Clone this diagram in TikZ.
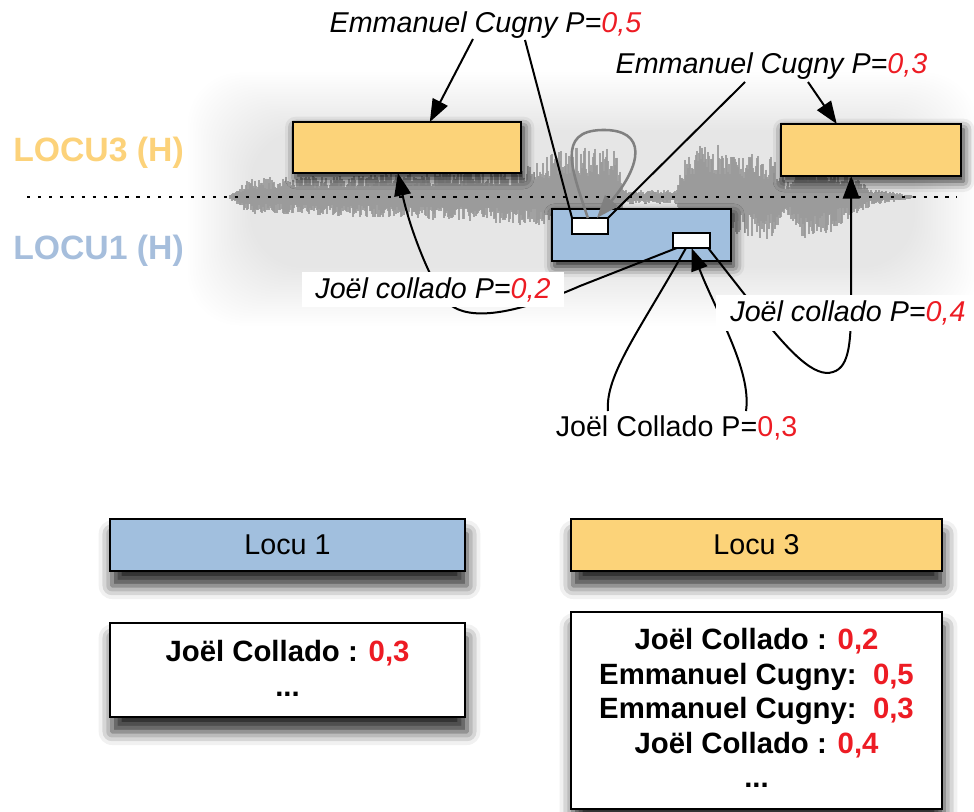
\documentclass[tikz,border=0pt]{standalone}
\usepackage{fontspec}
\setmainfont{Liberation Sans}
\usetikzlibrary{arrows.meta,shadows.blur,calc}

\definecolor{locuyellow}{RGB}{252,211,121}
\definecolor{locublue}{RGB}{161,191,222}
\definecolor{locuyellowtxt}{RGB}{252,210,122}
\definecolor{locubluetxt}{RGB}{166,190,220}
\definecolor{probred}{RGB}{237,28,36}
\definecolor{wavegrey}{RGB}{155,155,155}
\definecolor{loopgrey}{RGB}{128,128,128}

\newcommand\redval[1]{\textcolor{probred}{#1}}

\tikzset{
  panel/.style={draw=black, line width=2pt, inner sep=0pt, outer sep=0pt},
  topshadow/.style={blur shadow={shadow xshift=2pt, shadow yshift=-4pt,
      shadow blur radius=8pt, shadow opacity=90}},
  lowshadow/.style={blur shadow={shadow xshift=1.5pt, shadow yshift=-11pt,
      shadow blur radius=10pt, shadow opacity=85}},
  tag/.style={draw=black, fill=white, line width=1.6pt, inner sep=0pt, outer sep=0pt},
  conn/.style={draw=black, line width=1.5pt},
  bigtip/.style={-{Triangle[length=17pt,width=12.5pt]}},
  greyloop/.style={draw=loopgrey, line width=1.9pt,
      -{Triangle[length=17pt,width=12.5pt]}},
  itlabel/.style={font=\itshape\fontsize{21.5}{26}\selectfont, inner sep=0pt},
  uplabel/.style={font=\fontsize{21.5}{26}\selectfont, inner sep=0pt},
  boldline/.style={font=\bfseries\fontsize{22}{26}\selectfont, inner sep=0pt, anchor=base},
  speaker/.style={font=\bfseries\fontsize{25.3}{30}\selectfont, inner sep=0pt, anchor=base west},
  wave/.style={draw=wavegrey, line width=0.8pt, opacity=0.9},
  dotline/.style={draw=black, line width=2pt, dash pattern=on 2.4pt off 5.8pt},
}

\begin{document}
\begin{tikzpicture}[x=0.75pt,y=-0.75pt]
\useasboundingbox (0,0) rectangle (974,811);

% soft grey halo behind the audio track
\foreach \i in {0,...,24}{
  \fill[black, opacity=0.0045, rounded corners=40pt]
    (250-2.6*\i,130-2.4*\i) rectangle (915+2.6*\i,268+2.4*\i);
}

% audio waveform: envelope segments x0/x1/up0/up1/down0/down1
\pgfmathsetseed{4242}
\foreach \xa/\xb/\ua/\ub/\da/\db in {
    230/250/3/19/3/17, 251/420/19/24/17/22, 421/520/24/28/22/28,
    521/560/28/48/26/32, 561/615/50/52/32/36, 616/624/46/9/34/9,
    625/677/7/7/7/7, 678/690/24/54/24/36, 691/720/56/52/38/38,
    721/770/50/42/36/44, 771/790/42/12/42/18, 791/800/18/32/24/42,
    801/835/32/32/42/36, 836/870/30/10/30/10, 871/912/9/2/9/2}{
  \foreach \x in {\xa,...,\xb}{
    \pgfmathsetmacro\t{(\x-\xa)/max(\xb-\xa,1)}
    \pgfmathsetmacro\up{(\ua+(\ub-\ua)*\t)*(0.4+0.6*rnd)}
    \pgfmathsetmacro\dn{(\da+(\db-\da)*\t)*(0.4+0.6*rnd)}
    \draw[wave] (\x,197-\up) -- (\x,197+\dn);
  }
}

% speaker turn boundary
\coordinate (dl) at (27,197);
\coordinate (dr) at (957,197);
\draw[dotline] (dl) -- (dr);

% speaker tracks
\node[speaker, text=locuyellowtxt] (loc3) at (13,161) {LOCU3 (H)};
\node[speaker, text=locubluetxt] (loc1) at (13,259) {LOCU1 (H)};

% segments on the track
\node[panel, fill=locuyellow, topshadow, minimum width=171pt, minimum height=38.25pt] (y1) at (407,147.5) {};
\node[panel, fill=locuyellow, topshadow, minimum width=135pt, minimum height=39pt] (y2) at (871,150) {};
\node[panel, fill=locublue, topshadow, minimum width=134.25pt, minimum height=39pt] (bl) at (641.5,235) {};
\node[tag, minimum width=27pt, minimum height=12pt] (s1) at (590,226) {};
\node[tag, minimum width=27.75pt, minimum height=11.25pt] (s2) at (691.5,240.5) {};

% name hypotheses
\node[itlabel, anchor=base] (e05) at (485.5,32) {Emmanuel Cugny P=\redval{0,5}};
\node[itlabel, anchor=base] (e03) at (771.5,73) {Emmanuel Cugny P=\redval{0,3}};

\coordinate (a1) at (473,39);
\coordinate (a2) at (525,40);
\coordinate (a3) at (745,82);
\coordinate (a4) at (808,82);
\coordinate (b1) at (608,411);
\coordinate (b2) at (746,411);

\draw[conn, bigtip] (a1) -- ($(y1.north west)!0.6!(y1.north east)$);
\draw[conn] (a2) -- (s1.north west);
\draw[conn] (a3) -- (s1.north east);
\draw[conn, bigtip] (a4) -- ($(y2.north west)!0.31!(y2.north east)$);

\draw[greyloop] ($(s1.north west)!0.44!(s1.north east)$)
  .. controls (572,170) and (556,131) .. (602,130)
  .. controls (648,129) and (642,165) .. ($(s1.north west)!0.69!(s1.north east)$);

\draw[conn, bigtip] ($(s2.south west)!0.1!(s2.south east)$) -- (580,286)
  .. controls (525,310) and (470,325) .. (447,302)
  .. controls (432,285) and (410,230) .. ($(y1.south west)!0.46!(y1.south east)$);

\draw[conn, bigtip] ($(s2.south west)!0.95!(s2.south east)$) -- (745,295)
  .. controls (790,355) and (815,378) .. (833,372)
  .. controls (850,367) and (851,340) .. (851,300)
  -- ($(y2.south west)!0.39!(y2.south east)$);

\draw[conn] (b1) .. controls (605,375) and (640,330) .. ($(s2.south west)!0.35!(s2.south east)$);
\draw[conn, bigtip] (b2) .. controls (752,370) and (715,310) .. ($(s2.south west)!0.5!(s2.south east)$);

\node[itlabel, fill=white, inner xsep=9.75pt, minimum height=26.25pt] (j02) at (433,289.5) {Joël collado P=\redval{0,2}};
\node[itlabel, fill=white, inner xsep=11pt, minimum height=27pt] (j04) at (848,313) {Joël collado P=\redval{0,4}};
\node[uplabel, anchor=base] (jc3) at (676.5,436) {Joël Collado P=\redval{0,3}};

% per-speaker summaries
\node[panel, fill=locublue, lowshadow, minimum width=266.25pt, minimum height=39pt,
      font=\fontsize{21.5}{26}\selectfont] (L1) at (287.5,545) {Locu 1};
\node[panel, fill=locuyellow, lowshadow, minimum width=278.25pt, minimum height=39pt,
      font=\fontsize{21.5}{26}\selectfont] (L3) at (756.5,545) {Locu 3};
\node[panel, fill=white, lowshadow, minimum width=266.25pt, minimum height=70.5pt] (W1) at (287.5,670) {};
\node[panel, fill=white, lowshadow, minimum width=278.25pt, minimum height=147.75pt] (W2) at (756.5,710.5) {};

\node[boldline] (w1a) at (287.5,661) {Joël Collado : \redval{0,3}};
\node[boldline] (w1b) at (287.5,696) {...};

\node[boldline] (w2a) at (756.5,649) {Joël Collado : \redval{0,2}};
\node[boldline] (w2b) at (756.5,684) {Emmanuel Cugny:~~\redval{0,5}};
\node[boldline] (w2c) at (756.5,718) {Emmanuel Cugny:~~\redval{0,3}};
\node[boldline] (w2d) at (756.5,753) {Joël Collado : \redval{0,4}};
\node[boldline] (w2e) at (756.5,787) {...};
\end{tikzpicture}
\end{document}
